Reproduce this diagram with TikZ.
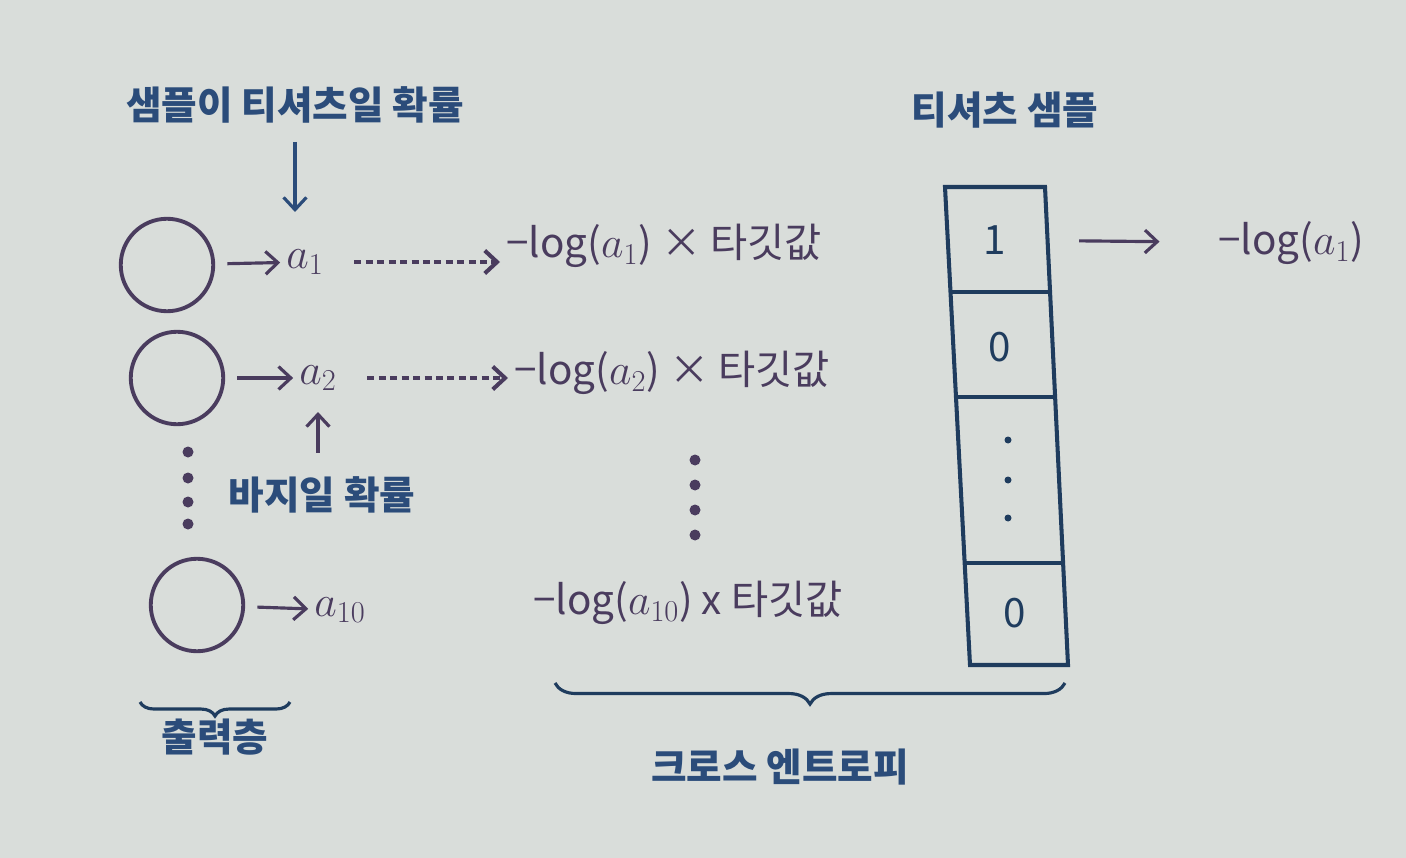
\documentclass[tikz,border=0pt]{standalone}
\usepackage{fontspec}
\setmainfont{Noto Sans CJK KR}
\usetikzlibrary{arrows.meta, decorations.pathreplacing, calc}
\definecolor{paper}{HTML}{D9DDDA}
\definecolor{ink}{HTML}{2B4C7A}
\definecolor{pen}{HTML}{4A3C5E}
\definecolor{boxline}{HTML}{1F3C5E}

\begin{document}
\begin{tikzpicture}[x=0.02cm, y=-0.02cm,
    every node/.style={font=\fontsize{23}{27}\selectfont, text=pen},
    tag/.style={text=ink, font=\fontsize{22}{26}\selectfont\bfseries},
    unit/.style={circle, draw=pen, line width=2.2pt, minimum size=1.85cm, inner sep=0pt},
    arr/.style={-{Straight Barb[length=7pt, width=13pt]}, line width=1.8pt, draw=pen},
    dotarr/.style={arr, dash pattern=on 4pt off 2.5pt, line width=2.3pt},
    brc/.style={decorate, decoration={brace, mirror, amplitude=12pt}, line width=1.8pt, draw=boxline}]
    \fill[paper] (0,0) rectangle (1406,858);
    \useasboundingbox (0,0) rectangle (1406,858);

    % output layer and its outputs
    \node[tag] (tTitle) at (295,105) {샘플이 티셔츠일 확률};
    \coordinate (pT) at (295,212);
    \draw[arr, draw=ink, shorten <=7pt] (tTitle.south -| pT) -- (pT);

    \node[unit] (o1) at (167,265) {};
    \node[unit] (o2) at (177,378) {};
    \node[unit] (o10) at (197,605) {};

    \node (a1) at (305,262) {$a_1$};
    \node (a2) at (318,378) {$a_2$};
    \node (a10) at (340,610) {$a_{10}$};

    \draw[arr, shorten <=7pt] (o1) -- (a1);
    \draw[arr, shorten <=7pt] (o2) -- (a2);
    \draw[arr, shorten <=7pt] (o10) -- (a10);

    \node[anchor=west] (l1) at (500,246) {−log($a_1$) × 타깃값};
    \node[anchor=west] (l2) at (508,373) {−log($a_2$) × 타깃값};
    \node[anchor=west] (l10) at (527,603) {−log($a_{10}$) x 타깃값};

    \draw[dotarr, shorten <=14pt] (a1) -- (l1.west |- a1);
    \draw[dotarr, shorten <=14pt] (a2) -- (l2.west |- a2);

    \foreach \y in {452,478,502,524} \fill[pen] (188,\y) circle (5.5);
    \foreach \y in {460,485,510,535} \fill[pen] (695,\y) circle (5.5);

    \node[tag] (tPants) at (322,495) {바지일 확률};
    \coordinate (pB) at (318,412);
    \draw[arr, shorten <=10pt] (tPants.north -| pB) -- (pB);

    % braces
    \coordinate (bo1) at (140,702);
    \coordinate (bo2) at (290,702);
    \draw[brc, decoration={amplitude=8pt}] (bo1) -- (bo2);
    \node[tag] (tOut) at (215,737) {출력층};

    \coordinate (bc1) at (555,683);
    \coordinate (bc2) at (1065,683);
    \draw[brc] (bc1) -- (bc2);
    \node[tag] (tCE) at (780,767) {크로스 엔트로피};

    % target vector
    \node[tag] (tSample) at (1005,110) {티셔츠 샘플};
    \coordinate (vTL) at (945,187);
    \coordinate (vTR) at (1045,187);
    \coordinate (vBL) at (970,665);
    \coordinate (vBR) at (1068,665);
    \draw[boxline, line width=2.3pt] (vTL) -- (vTR) -- (vBR) -- (vBL) -- cycle;
    \foreach \t in {0.220,0.440,0.787}
        \draw[boxline, line width=2.3pt] ($(vTL)!\t!(vBL)$) -- ($(vTR)!\t!(vBR)$);
    \node[text=boxline] (c1) at (995,240) {1};
    \node[text=boxline] (c2) at (1000,347) {0};
    \node[text=boxline] (c4) at (1015,613) {0};
    \foreach \y in {440,480,518} \fill[boxline] (1008,\y) circle (3.5);

    \node[anchor=west] (r1) at (1212,243) {−log($a_1$)};
    \draw[arr, shorten <=38pt, shorten >=1.05cm] (c1) -- (r1);
\end{tikzpicture}
\end{document}
